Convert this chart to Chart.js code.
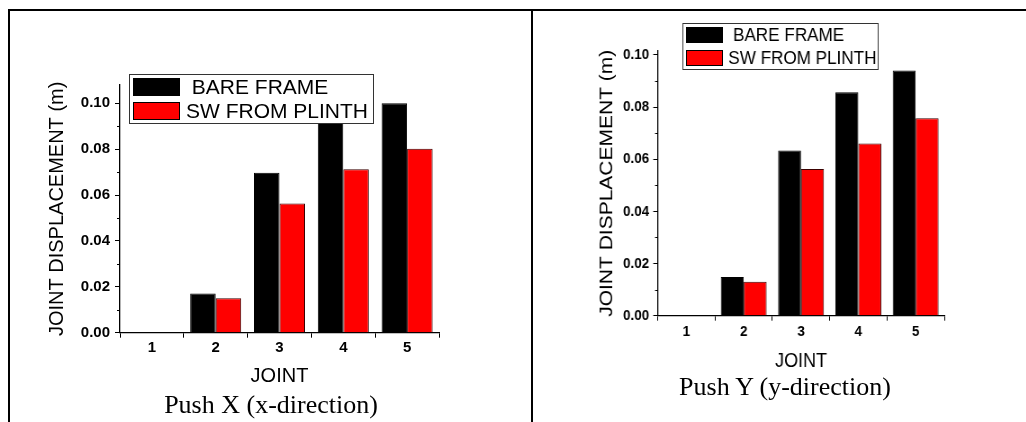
<!DOCTYPE html>
<html>
<head>
<meta charset="utf-8">
<script src="https://cdn.jsdelivr.net/npm/chart.js@4.4.1/dist/chart.umd.min.js"></script>
<style>
  body { margin: 0; background: #fff; }
  #wrap { position: relative; width: 1026px; height: 422px; overflow: hidden; background: #fff; }
  .rule { position: absolute; background: #000; }
  canvas { position: absolute; top: 0; }
  .caption { position: absolute; font-family: 'Liberation Serif', 'Times New Roman', serif; font-size: 26px; line-height: 30px; height: 30px; text-align: center; color: #000; white-space: nowrap; }
</style>
</head>
<body>
<div id="wrap">
  <div class="rule" style="left:8px;top:9px;width:1018px;height:2px"></div>
  <div class="rule" style="left:8px;top:9px;width:2px;height:413px"></div>
  <div class="rule" style="left:531px;top:9px;width:2px;height:413px"></div>
  <canvas id="pushX" width="531" height="422" style="left:0;width:531px;height:422px"></canvas>
  <canvas id="pushY" width="548" height="422" style="left:533px;width:548px;height:422px;transform:scaleX(0.9);transform-origin:0 0"></canvas>
  <div class="caption" style="left:121px;top:390px;width:300px">Push X (x-direction)</div>
  <div class="caption" style="left:635px;top:372px;width:300px">Push Y (y-direction)</div>
</div>
<script>
// joints along the frame height
const joints = ['1', '2', '3', '4', '5'];
const seriesLabels = [' BARE FRAME', 'SW FROM PLINTH'];

// joint displacement (m), push in x-direction
const pushXBare = [0, 0.0171, 0.0697, 0.092, 0.100];
const pushXSw = [0, 0.0150, 0.0563, 0.0713, 0.0802];

// joint displacement (m), push in y-direction
const pushYBare = [0, 0.0148, 0.0634, 0.0857, 0.0940];
const pushYSw = [0, 0.0130, 0.0563, 0.0660, 0.0757];

Chart.defaults.font.family = "'Liberation Sans', Arial, sans-serif";
Chart.defaults.color = '#000';

// short unlabelled ticks half way between the labelled ones
const minorTicks = {
  id: 'minorTicks',
  afterDraw(chart) {
    const y = chart.scales.y;
    const ticks = y.ticks;
    const step = ticks[1].value - ticks[0].value;
    const ctx = chart.ctx;
    ctx.save();
    ctx.strokeStyle = '#000';
    ctx.lineWidth = 1;
    ticks.forEach(t => {
      const v = t.value + step / 2;
      if (v > y.max) return;
      const py = Math.round(y.getPixelForValue(v)) + 0.5;
      ctx.beginPath();
      ctx.moveTo(y.right - 3, py);
      ctx.lineTo(y.right, py);
      ctx.stroke();
    });
    ctx.restore();
  }
};

// framed legend sitting inside the plot, like the original Origin figure
const boxLegend = {
  id: 'boxLegend',
  afterDatasetsDraw(chart, args, o) {
    const ctx = chart.ctx;
    ctx.save();
    ctx.fillStyle = '#fff';
    ctx.fillRect(o.x, o.y, o.w, o.h);
    ctx.strokeStyle = '#333';
    ctx.lineWidth = 1;
    ctx.strokeRect(o.x + 0.5, o.y + 0.5, o.w, o.h);
    chart.data.datasets.forEach((ds, i) => {
      const top = o.rows[i];
      ctx.fillStyle = ds.backgroundColor;
      ctx.fillRect(o.swX, top, o.swW, o.swH);
      ctx.strokeStyle = '#000';
      ctx.strokeRect(o.swX + 0.5, top + 0.5, o.swW - 1, o.swH - 1);
      ctx.fillStyle = '#000';
      ctx.font = o.font;
      ctx.textBaseline = 'middle';
      ctx.fillText(ds.label, o.textX, top + o.swH / 2 + 1);
    });
    ctx.restore();
  }
};

function makeChart(id, bare, sw, c) {
  return new Chart(document.getElementById(id).getContext('2d'), {
    type: 'bar',
    data: {
      labels: joints,
      datasets: [{
        label: seriesLabels[0],
        data: bare,
        backgroundColor: '#000000',
        borderColor: '#000000',
        borderWidth: 1
      }, {
        label: seriesLabels[1],
        data: sw,
        backgroundColor: '#ff0000',
        borderColor: '#3a0000',
        borderWidth: 1
      }]
    },
    options: {
      responsive: false,
      animation: false,
      layout: { padding: c.padding },
      categoryPercentage: 0.8,
      barPercentage: 1.0,
      plugins: {
        legend: { display: false },
        tooltip: { enabled: false },
        boxLegend: c.legend
      },
      scales: {
        x: {
          offset: true,
          grid: { display: true, drawOnChartArea: false, offset: true, tickLength: 5, color: '#000' },
          border: { display: true, color: '#000', width: 1.3 },
          ticks: { padding: c.xTickPad, font: { size: c.tickSize, weight: 'bold' } },
          title: {
            display: true,
            text: 'JOINT',
            font: { size: c.xTitleSize },
            padding: { top: 0, bottom: c.xTitlePad }
          },
          afterFit(scale) { scale.height = 60; }
        },
        y: {
          min: 0,
          max: c.yMax,
          grid: { display: true, drawOnChartArea: false, tickLength: 5, color: '#000' },
          border: { display: true, color: '#000', width: 1.3 },
          ticks: {
            stepSize: 0.02,
            includeBounds: false,
            padding: c.yTickPad,
            font: { size: c.tickSize, weight: 'bold' },
            callback: v => v.toFixed(2)
          },
          title: {
            display: true,
            text: 'JOINT DISPLACEMENT (m)',
            font: { size: c.yTitleSize },
            padding: { top: c.yTitlePad, bottom: 0 }
          },
          afterFit(scale) { scale.width = 80; }
        }
      }
    },
    plugins: [minorTicks, boxLegend]
  });
}

const chartX = makeChart('pushX', pushXBare, pushXSw, {
  padding: { left: 40, right: 92, top: 85, bottom: 29.3 },
  yMax: 0.108,
  tickSize: 15,
  xTickPad: 1.5,
  yTickPad: 5,
  xTitleSize: 20,
  xTitlePad: 4,
  yTitleSize: 20,
  yTitlePad: 5,
  legend: { x: 129, y: 74, w: 244, h: 49, swX: 133, swW: 47, swH: 18, rows: [78, 102], textX: 186, font: "21px 'Liberation Sans', Arial, sans-serif" }
});

const chartY = makeChart('pushY', pushYBare, pushYSw, {
  padding: { left: 58.6, right: 91, top: 50.8, bottom: 46.3 },
  yMax: 0.1016,
  tickSize: 15,
  xTickPad: 2.6,
  yTickPad: 4.4,
  xTitleSize: 20,
  xTitlePad: 2.7,
  yTitleSize: 21,
  yTitlePad: 10.7,
  legend: { x: 166, y: 23, w: 217, h: 46, swX: 170, swW: 41, swH: 16, rows: [27, 50], textX: 217, font: "19px 'Liberation Sans', Arial, sans-serif" }
});
</script>
</body>
</html>
